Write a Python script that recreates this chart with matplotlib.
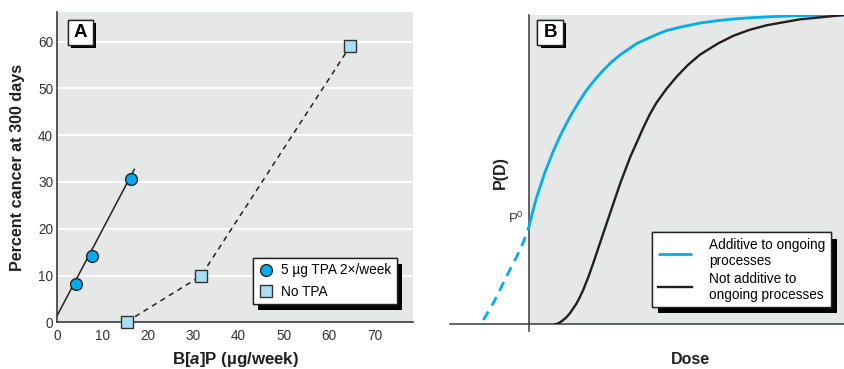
import numpy as np
import matplotlib
matplotlib.use("Agg")
import matplotlib.pyplot as plt
import matplotlib.patheffects as pe
from matplotlib.patches import Rectangle

plt.rcParams['font.family'] = ['Liberation Sans', 'DejaVu Sans']
plt.rcParams['mathtext.fontset'] = 'custom'
plt.rcParams['mathtext.it'] = 'Liberation Sans:italic:bold'
plt.rcParams['mathtext.rm'] = 'Liberation Sans'
plt.rcParams['mathtext.bf'] = 'Liberation Sans:bold'

# Panel A data
tpa_x = [4.1, 7.7, 16.2]
tpa_y = [8.1, 14.2, 30.6]
fit_x = [0, 17.0]
fit_y = [1.5, 32.7]
notpa_x = [15.3, 31.7, 64.7]
notpa_y = [0.1, 9.9, 59.1]
a_yticks = [0, 10, 20, 30, 40, 50, 60]
a_xticks = [0, 10, 20, 30, 40, 50, 60, 70]

# Panel B data (schematic curves)
add_dash_x = [-0.145, -0.110, -0.082, -0.060, -0.039, -0.018, 0.0]
add_dash_y = [0.014, 0.075, 0.133, 0.178, 0.219, 0.266, 0.316]
add_x = [0.0, 0.012, 0.024, 0.050, 0.077, 0.104, 0.130, 0.157, 0.183, 0.210,
         0.236, 0.262, 0.289, 0.342, 0.405, 0.437, 0.490, 0.543, 0.600, 0.649,
         0.700, 0.755, 0.850, 1.0]
add_y = [0.316, 0.365, 0.410, 0.490, 0.560, 0.620, 0.671, 0.717, 0.758, 0.792,
         0.822, 0.848, 0.871, 0.908, 0.937, 0.950, 0.963, 0.974, 0.982, 0.987,
         0.991, 0.994, 0.998, 1.0]
nonadd_x = [0.083, 0.095, 0.105, 0.118, 0.130, 0.150, 0.160, 0.172, 0.188, 0.204,
            0.236, 0.263, 0.290, 0.321, 0.363, 0.384, 0.405, 0.437, 0.470, 0.505,
            0.543, 0.600, 0.649, 0.700, 0.755, 0.860, 1.0]
nonadd_y = [0.0, 0.004, 0.011, 0.022, 0.036, 0.066, 0.085, 0.111, 0.152, 0.198,
            0.295, 0.376, 0.457, 0.540, 0.636, 0.680, 0.717, 0.762, 0.802, 0.839,
            0.872, 0.908, 0.933, 0.952, 0.967, 0.986, 1.0]

gray_bg = '#e6e7e7'
blue = '#00aeef'
axis_col = '#3a3a3a'
text_col = '#231f20'
shadow = [pe.withSimplePatchShadow(offset=(2.3, -2.3), shadow_rgbFace='black',
                                   alpha=1), pe.Normal()]

fig = plt.figure(figsize=(8.44, 3.69), dpi=100)

# ---------------- Panel A ----------------
axA = fig.add_axes([0.0679, 0.1266, 0.4214, 0.8417])
axA.set_facecolor(gray_bg)
axA.set_xlim(0, 78.5)
axA.set_ylim(0, 66.4)
for s in ['top', 'right']:
    axA.spines[s].set_visible(False)
for s in ['left', 'bottom']:
    axA.spines[s].set_color(axis_col)
    axA.spines[s].set_linewidth(1.2)
axA.set_yticks(a_yticks)
axA.set_xticks(a_xticks)
axA.tick_params(length=0, labelsize=9.8, labelcolor='#333333')
axA.tick_params(axis='x', pad=5)
axA.tick_params(axis='y', pad=3)
axA.yaxis.grid(True, color='white', linewidth=1.3)
axA.set_axisbelow(True)

axA.plot(fit_x, fit_y, color='#222222', linewidth=1.1, zorder=3)
axA.plot(notpa_x, notpa_y, color='#222222', linewidth=1.1,
         linestyle=(0, (3.5, 3)), zorder=3)
axA.plot(tpa_x, tpa_y, 'o', markersize=8.5, markerfacecolor=blue,
         markeredgecolor='#222222', markeredgewidth=1.0, zorder=4, clip_on=False,
         label='5 µg TPA 2×/week')
axA.plot(notpa_x, notpa_y, 's', markersize=8.5, markerfacecolor='#a8dff5',
         markeredgecolor='#333333', markeredgewidth=1.0, zorder=4, clip_on=False,
         label='No TPA')

axA.text(-0.113, 0.5, 'Percent cancer at 300 days', transform=axA.transAxes,
         rotation=90, fontsize=11.6, fontweight='bold', color=text_col,
         ha='center', va='center')
axA.text(0.5016, -0.121, r'B[$a$]P (µg/week)', transform=axA.transAxes,
         fontsize=12.2, fontweight='bold', color=text_col,
         ha='center', va='center')

legA = axA.legend(loc='upper left', bbox_to_anchor=(0.550, 0.207),
                  borderaxespad=0, fontsize=9.8, frameon=True, fancybox=False,
                  handletextpad=0.55, handlelength=1.1, borderpad=0.4,
                  labelspacing=0.55)
frA = legA.get_frame()
frA.set_edgecolor('#222222')
frA.set_linewidth(1.0)
frA.set_alpha(1)
frA.set_path_effects([pe.withSimplePatchShadow(offset=(4, -4),
                                               shadow_rgbFace='black', alpha=1),
                      pe.Normal()])

boxA = Rectangle((0.030, 0.893), 0.0703, 0.0805, transform=axA.transAxes,
                 facecolor='white', edgecolor='#222222', linewidth=1.0, zorder=6)
boxA.set_path_effects(shadow)
axA.add_patch(boxA)
axA.text(0.030 + 0.0703 / 2, 0.893 + 0.0805 / 2, 'A', transform=axA.transAxes,
         fontsize=13.5, fontweight='bold', ha='center', va='center', zorder=7,
         color='black')

# ---------------- Panel B ----------------
axB = fig.add_axes([0.5332, 0.1211, 0.4668, 0.8382])
axB.set_xlim(-0.2508, 1.0)
axB.set_ylim(0, 1.0)
axB.set_facecolor('none')
axB.axvspan(0, 1.0, color=gray_bg, zorder=0)
for s in ['top', 'right', 'left']:
    axB.spines[s].set_visible(False)
axB.spines['bottom'].set_color(axis_col)
axB.spines['bottom'].set_linewidth(1.1)
axB.plot([0, 0], [-0.02, 1.0], color=axis_col, linewidth=1.1, clip_on=False,
         zorder=2)
axB.set_xticks([])
axB.set_yticks([])

axB.plot(add_dash_x, add_dash_y, color=blue, linewidth=2.0,
         linestyle=(0, (3.5, 2.5)), zorder=3)
axB.plot(add_x, add_y, color=blue, linewidth=2.0, zorder=3,
         label='Additive to ongoing\nprocesses', solid_capstyle='butt')
axB.plot(nonadd_x, nonadd_y, color=text_col, linewidth=1.7, zorder=3,
         label='Not additive to\nongoing processes')

axB.text(-0.016, 0.344, r'P$^{0}$', fontsize=9.5, color='#333333', ha='right',
         va='center')
axB.text(0.127, 0.49, 'P(D)', transform=axB.transAxes, rotation=90,
         fontsize=11.5, fontweight='bold', color=text_col, ha='center',
         va='center')
axB.text(0.609, -0.115, 'Dose', transform=axB.transAxes, fontsize=11.5,
         fontweight='bold', color=text_col, ha='center', va='center')

legB = axB.legend(loc='upper left', bbox_to_anchor=(0.513, 0.297),
                  borderaxespad=0, fontsize=9.8, frameon=True, fancybox=False,
                  handlelength=2.5, handletextpad=1.3, borderpad=0.4,
                  labelspacing=0.25)
frB = legB.get_frame()
frB.set_edgecolor('#222222')
frB.set_linewidth(1.0)
frB.set_alpha(1)
frB.set_path_effects([pe.withSimplePatchShadow(offset=(4.5, -4.5),
                                               shadow_rgbFace='black', alpha=1),
                      pe.Normal()])

boxB = Rectangle((0.2216, 0.903), 0.0645, 0.0808, transform=axB.transAxes,
                 facecolor='white', edgecolor='#222222', linewidth=1.0, zorder=6)
boxB.set_path_effects(shadow)
axB.add_patch(boxB)
axB.text(0.2216 + 0.0645 / 2, 0.903 + 0.0808 / 2, 'B', transform=axB.transAxes,
         fontsize=13.5, fontweight='bold', ha='center', va='center', zorder=7,
         color='black')

fig.savefig('out.png', dpi=100)
